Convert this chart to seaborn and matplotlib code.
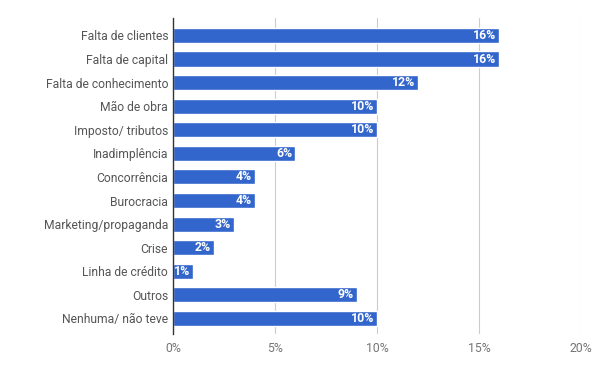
import matplotlib
matplotlib.use("Agg")
import matplotlib.pyplot as plt
import seaborn as sns
import pandas as pd

categories = ["Falta de clientes", "Falta de capital", "Falta de conhecimento",
              "Mão de obra", "Imposto/ tributos", "Inadimplência", "Concorrência",
              "Burocracia", "Marketing/propaganda", "Crise", "Linha de crédito",
              "Outros", "Nenhuma/ não teve"]
values = [16, 16, 12, 10, 10, 6, 4, 4, 3, 2, 1, 9, 10]
xticks = [0, 5, 10, 15, 20]
xtick_labels = ["0%", "5%", "10%", "15%", "20%"]

sns.set_theme(style="white")
plt.rcParams['font.family'] = ['Roboto', 'DejaVu Sans']

df = pd.DataFrame({"cat": categories, "val": values})
fig = plt.figure(figsize=(6, 3.71), dpi=100)
ax = fig.add_axes([173/600, 37/371, 408/600, 316/371])
sns.barplot(data=df, y="cat", x="val", color="#3366CC", saturation=1,
            width=0.64, ax=ax, orient="h")
ax.set_xlim(0, 20)
ax.set_ylim(12.66, -0.74)
ax.set_xticks(xticks)
ax.set_xticklabels(xtick_labels, color="#757575", fontsize=8.8)
ax.tick_params(axis="y", labelsize=8.7, labelcolor="#555555", length=0, pad=3.5)
ax.tick_params(axis="x", length=0, pad=6)
ax.set_xlabel("")
ax.set_ylabel("")
for x in xticks[1:]:
    ax.axvline(x, color="#cccccc", lw=0.8, zorder=0)
for s in ["top", "right", "bottom"]:
    ax.spines[s].set_visible(False)
ax.spines["left"].set_color("#333333")
ax.spines["left"].set_linewidth(1)
for i, v in enumerate(values):
    ax.text(v - 0.15, i, f"{v}%", ha="right", va="center", color="white",
            fontsize=8.8, fontweight="bold")
fig.savefig("out.png", dpi=100)
